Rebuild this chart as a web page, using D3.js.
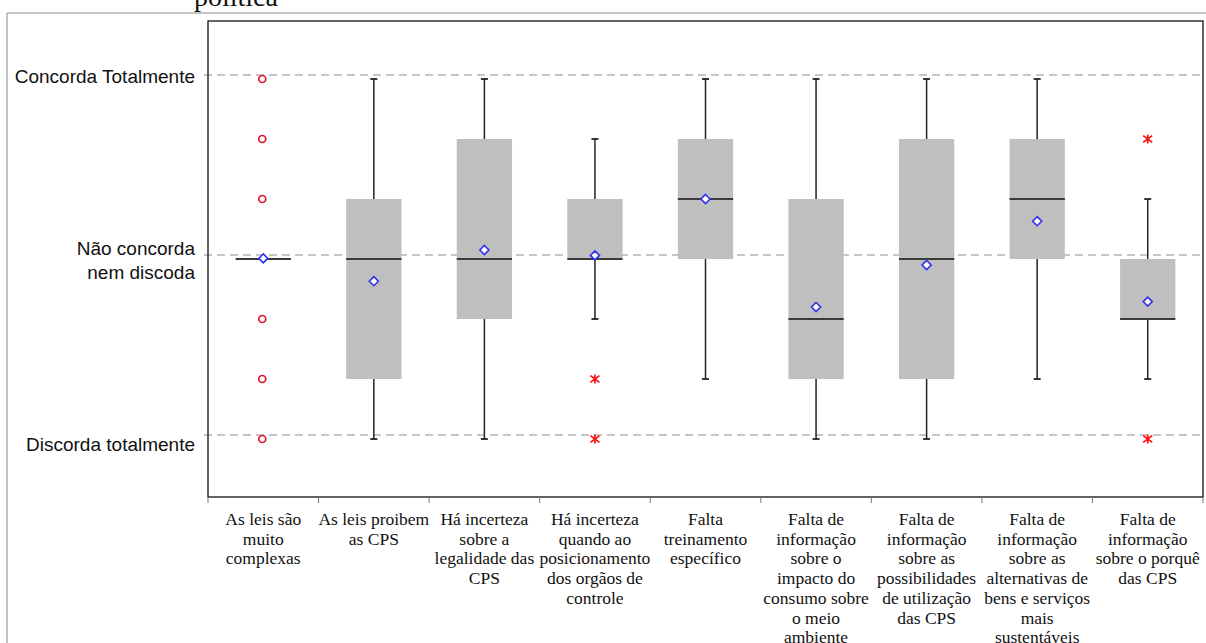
<!DOCTYPE html>
<html lang="pt">
<head>
<meta charset="utf-8">
<title>Barreiras às CPS</title>
<style>
    body { margin: 0; background: #fff; }
    svg { display: block; }
</style>
</head>
<body>
<script src="https://cdn.jsdelivr.net/npm/d3@7"></script>
<svg id="chart" width="1206" height="643"></svg>
<script>

    // categorias (rótulos já quebrados em linhas)
    var categories = [
        ["As leis são", "muito", "complexas"],
        ["As leis proibem", "as CPS"],
        ["Há incerteza", "sobre a", "legalidade das", "CPS"],
        ["Há incerteza", "quando ao", "posicionamento", "dos orgãos de", "controle"],
        ["Falta", "treinamento", "específico"],
        ["Falta de", "informação", "sobre o", "impacto do", "consumo sobre", "o meio", "ambiente"],
        ["Falta de", "informação", "sobre as", "possibilidades", "de utilização", "das CPS"],
        ["Falta de", "informação", "sobre as", "alternativas de", "bens e serviços", "mais", "sustentáveis"],
        ["Falta de", "informação", "sobre o porquê", "das CPS"]
    ];

    // estatísticas (escala de 1 a 7)
    var whiskerLow  = [4, 1, 1, 3, 2, 1, 1, 2, 2];
    var q1          = [4, 2, 3, 4, 4, 2, 2, 4, 3];
    var medians     = [4, 4, 4, 4, 5, 3, 4, 5, 3];
    var q3          = [4, 5, 6, 5, 6, 5, 6, 6, 4];
    var whiskerHigh = [4, 7, 7, 6, 7, 7, 7, 7, 5];
    var means       = [4.01, 3.63, 4.15, 4.06, 5.0, 3.2, 3.9, 4.63, 3.29];
    var outliers    = [[7, 6, 5, 3, 2, 1], [], [], [2, 1], [], [], [], [], [6, 1]];
    var outlierKind = ["circle", "star", "star", "star", "star", "star", "star", "star", "star"];

    // linhas de referência do eixo y
    var refValues = [7, 4, 1];
    var refLabels = [["Concorda Totalmente"], ["Não concorda", "nem discoda"], ["Discorda totalmente"]];

    var title = "política";

    var svg = d3.select("#chart");

    var plotLeft = 208, plotRight = 1203, plotTop = 21, plotBottom = 497;

    var x = d3.scaleBand()
        .domain(d3.range(categories.length))
        .range([plotLeft, plotRight])
        .padding(0);

    var y = d3.scaleLinear().domain([1, 7]).range([439, 79]);

    var boxW = x.bandwidth() * 0.5;
    var cx = function (i) { return x(i) + x.bandwidth() / 2; };

    // moldura externa (célula do documento)
    svg.append("path")
        .attr("d", "M7,643 V13 H1206")
        .attr("fill", "none")
        .attr("stroke", "#8a8a8a")
        .attr("stroke-width", 1);

    svg.append("text")
        .attr("x", 194)
        .attr("y", 6)
        .attr("font-family", "'Liberation Serif', 'Times New Roman', serif")
        .attr("font-size", 28)
        .attr("fill", "#111")
        .text(title);

    // grade tracejada
    svg.append("g").selectAll("line")
        .data(refValues)
        .enter().append("line")
        .attr("x1", plotLeft - 4)
        .attr("x2", plotRight)
        .attr("y1", d => y(d) - 4)
        .attr("y2", d => y(d) - 4)
        .attr("stroke", "#b4b4b4")
        .attr("stroke-width", 1.5)
        .attr("stroke-dasharray", "8,5");

    // rótulos do eixo y
    var labOffsets = [[3.5], [-4.4, 19.6], [11.6]];
    var ylab = svg.append("g")
        .attr("font-family", "'Liberation Sans', Arial, sans-serif")
        .attr("font-size", 19)
        .attr("fill", "#111")
        .attr("text-anchor", "end");
    refValues.forEach(function (v, i) {
        refLabels[i].forEach(function (line, j) {
            ylab.append("text")
                .attr("x", 195)
                .attr("y", y(v) + labOffsets[i][j])
                .text(line);
        });
    });

    // caixas
    var g = svg.append("g").selectAll("g")
        .data(categories)
        .enter().append("g");

    // bigodes
    g.each(function (d, i) {
        var el = d3.select(this);
        if (whiskerHigh[i] > q3[i]) {
            el.append("line")
                .attr("x1", cx(i)).attr("x2", cx(i))
                .attr("y1", y(q3[i])).attr("y2", y(whiskerHigh[i]))
                .attr("stroke", "#222").attr("stroke-width", 1.5);
            el.append("line")
                .attr("x1", cx(i) - 3.5).attr("x2", cx(i) + 3.5)
                .attr("y1", y(whiskerHigh[i])).attr("y2", y(whiskerHigh[i]))
                .attr("stroke", "#222").attr("stroke-width", 1.8);
        }
        if (whiskerLow[i] < q1[i]) {
            el.append("line")
                .attr("x1", cx(i)).attr("x2", cx(i))
                .attr("y1", y(q1[i])).attr("y2", y(whiskerLow[i]))
                .attr("stroke", "#222").attr("stroke-width", 1.5);
            el.append("line")
                .attr("x1", cx(i) - 3.5).attr("x2", cx(i) + 3.5)
                .attr("y1", y(whiskerLow[i])).attr("y2", y(whiskerLow[i]))
                .attr("stroke", "#222").attr("stroke-width", 1.8);
        }
    });

    g.append("rect")
        .attr("x", (d, i) => cx(i) - boxW / 2)
        .attr("y", (d, i) => y(q3[i]))
        .attr("width", boxW)
        .attr("height", (d, i) => y(q1[i]) - y(q3[i]))
        .attr("fill", "#bfbfbf");

    g.append("line")
        .attr("x1", (d, i) => cx(i) - boxW / 2)
        .attr("x2", (d, i) => cx(i) + boxW / 2)
        .attr("y1", (d, i) => y(medians[i]))
        .attr("y2", (d, i) => y(medians[i]))
        .attr("stroke", "#3a3a3a")
        .attr("stroke-width", 1.8);

    // outliers
    g.each(function (d, i) {
        var el = d3.select(this);
        outliers[i].forEach(function (v) {
            if (outlierKind[i] === "circle") {
                el.append("circle")
                    .attr("cx", cx(i) - 1)
                    .attr("cy", y(v))
                    .attr("r", 3.5)
                    .attr("fill", "none")
                    .attr("stroke", "#e3122e")
                    .attr("stroke-width", 1.7);
            } else {
                var s = 4.5;
                el.append("path")
                    .attr("d", "M" + (-s) + "," + (-s * 0.75) + "L" + s + "," + (s * 0.75) +
                        "M" + (-s) + "," + (s * 0.75) + "L" + s + "," + (-s * 0.75) +
                        "M0," + (-s) + "V" + s)
                    .attr("transform", "translate(" + cx(i) + "," + y(v) + ")")
                    .attr("fill", "none")
                    .attr("stroke", "#ff1010")
                    .attr("stroke-width", 1.7);
            }
        });
    });

    // médias
    g.append("path")
        .attr("d", d3.symbol().type(d3.symbolDiamond2).size(52))
        .attr("transform", (d, i) => "translate(" + cx(i) + "," + y(means[i]) + ")")
        .attr("fill", "#fff")
        .attr("stroke", "#3030f0")
        .attr("stroke-width", 1.6);

    // área do gráfico
    svg.append("rect")
        .attr("x", plotLeft)
        .attr("y", plotTop)
        .attr("width", plotRight - plotLeft)
        .attr("height", plotBottom - plotTop)
        .attr("fill", "none")
        .attr("stroke", "#111")
        .attr("stroke-width", 1.3);

    // marcas do eixo x
    svg.append("g").selectAll("line")
        .data(d3.range(categories.length + 1))
        .enter().append("line")
        .attr("x1", d => plotLeft + d * x.bandwidth())
        .attr("x2", d => plotLeft + d * x.bandwidth())
        .attr("y1", plotBottom)
        .attr("y2", plotBottom + 6)
        .attr("stroke", "#777")
        .attr("stroke-width", 1);

    // rótulos do eixo x
    var xlab = svg.append("g")
        .attr("font-family", "'Liberation Serif', 'Times New Roman', serif")
        .attr("font-size", 17.5)
        .attr("fill", "#111")
        .attr("text-anchor", "middle");
    categories.forEach(function (lines, i) {
        lines.forEach(function (line, j) {
            xlab.append("text")
                .attr("x", cx(i))
                .attr("y", 525 + j * 19.7)
                .text(line);
        });
    });

</script>
</body>
</html>
